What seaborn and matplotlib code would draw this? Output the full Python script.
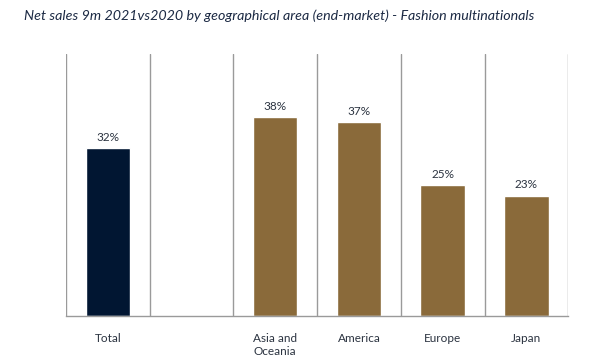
import numpy as np
import pandas as pd
import seaborn as sns
import matplotlib.pyplot as plt

# Dados
categories = ["Total", " ", "Asia and\nOceania", "America", "Europe", "Japan"]
growth = [32, np.nan, 38, 37, 25, 23]
bar_colors = ["#011632", "#ffffff", "#8a6a3a", "#8a6a3a", "#8a6a3a", "#8a6a3a"]

df = pd.DataFrame({"area": categories, "growth": growth})

sns.set_style("white")
plt.rcParams["font.family"] = ["Lato", "DejaVu Sans"]

fig = plt.figure(figsize=(6, 3.6), dpi=100)
ax = fig.add_axes([0.11, 0.122, 0.837, 0.728])

sns.barplot(data=df, x="area", y="growth", hue="area", palette=bar_colors,
            legend=False, width=0.53, ax=ax, saturation=1)

# Rótulos de valor
for i, v in enumerate(growth):
    if not np.isnan(v):
        ax.text(i, v + 1.0, f"{v:.0f}%", ha="center", va="bottom",
                fontsize=8.5, color="#2b3340")

ax.set_ylim(0, 50)
ax.set_xlim(-0.5, len(categories) - 0.5)
ax.set_yticks([])
ax.set_xlabel("")
ax.set_ylabel("")

# Linhas separadoras entre categorias
ax.set_xticks(np.arange(-0.5, len(categories)), minor=True)
ax.grid(True, axis="x", which="minor", color="#9a9a9a", linewidth=1)
ax.grid(False, axis="x", which="major")
ax.tick_params(axis="x", which="minor", length=4, color="#9a9a9a", width=1)
ax.tick_params(axis="x", which="major", length=0, labelsize=8.5,
               labelcolor="#2b3340", pad=12)

for side in ["top", "right", "left"]:
    ax.spines[side].set_visible(False)
ax.spines["bottom"].set_color("#9a9a9a")
ax.spines["bottom"].set_linewidth(1)

fig.text(0.04, 0.955, "Net sales 9m 2021vs2020 by geographical area (end-market) - Fashion multinationals",
         fontsize=10.3, style="italic", color="#1c2a44", ha="left", va="center")

fig.savefig("out.png", dpi=100, facecolor="white")
